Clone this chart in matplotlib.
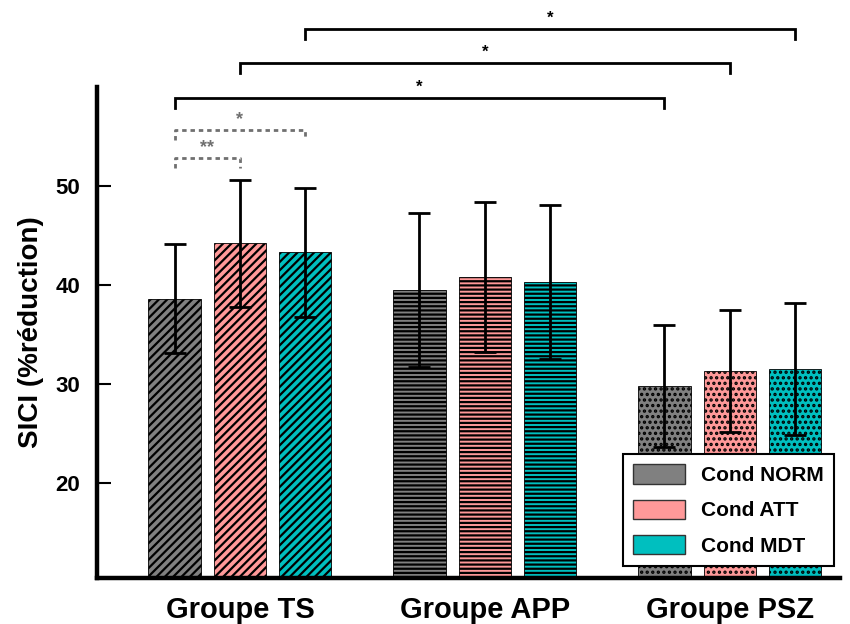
import matplotlib
matplotlib.use("Agg")
import matplotlib.pyplot as plt
import numpy as np
from matplotlib.patches import Patch

plt.rcParams['font.family'] = ['Liberation Sans', 'DejaVu Sans']
plt.rcParams['font.weight'] = 'bold'
plt.rcParams['hatch.linewidth'] = 1.6

groups = ["Groupe TS", "Groupe APP", "Groupe PSZ"]
conditions = ["Cond NORM", "Cond ATT", "Cond MDT"]
colors = ["#808080", "#FF9999", "#00BFBF"]
hatches = ["////", "----", "..."]

# mean per group (rows) and condition (columns)
means = np.array([
    [38.6, 44.2, 43.3],
    [39.5, 40.8, 40.3],
    [29.8, 31.3, 31.5],
])
errors = np.array([
    [5.5, 6.4, 6.5],
    [7.8, 7.6, 7.8],
    [6.2, 6.2, 6.7],
])

# significance brackets: (group_a, cond_a, group_b, cond_b, height, label)
sig_main = [
    (0, 2, 2, 2, 65.8, "*"),
    (0, 1, 2, 1, 62.4, "*"),
    (0, 0, 2, 0, 58.9, "*"),
]
sig_within = [
    (0, 0, 0, 2, 55.6, "*"),
    (0, 0, 0, 1, 52.8, "**"),
]

fig = plt.figure(figsize=(8.5, 6.24), dpi=100)
ax = fig.add_axes([0.114, 0.0737, 0.874, 0.787])

x = np.arange(len(groups))
offsets = np.array([-0.267, 0.0, 0.267])
width = 0.213

for j in range(3):
    for i in range(3):
        ax.bar(x[i] + offsets[j], means[i, j], width, color=colors[j],
               edgecolor="black", linewidth=0.6, hatch=hatches[i], zorder=2)
    ax.errorbar(x + offsets[j], means[:, j], yerr=errors[:, j], fmt="none",
                ecolor="black", elinewidth=2, capsize=8, capthick=2, zorder=3)

def pos(g, c):
    return x[g] + offsets[c]

for ga, ca, gb, cb, h, lab in sig_main:
    xa, xb = pos(ga, ca), pos(gb, cb)
    ax.plot([xa, xa, xb, xb], [h - 1.0, h, h, h - 1.0], color="black",
            lw=2, clip_on=False, zorder=4, solid_joinstyle="miter")
    ax.text((xa + xb) / 2, h + 0.35, lab, ha="center", va="bottom",
            fontsize=12, fontweight="bold", color="black", clip_on=False)

for ga, ca, gb, cb, h, lab in sig_within:
    xa, xb = pos(ga, ca), pos(gb, cb)
    ax.plot([xa, xa, xb, xb], [h - 1.0, h, h, h - 1.0], color="#707070",
            lw=2, ls=(0, (1.6, 1.4)), clip_on=False, zorder=4)
    ax.text((xa + xb) / 2, h + 0.2, lab, ha="center", va="bottom",
            fontsize=13, fontweight="bold", color="#707070", clip_on=False)

ax.set_xlim(-0.584, 2.449)
ax.set_ylim(10.4, 60)
ax.set_yticks([20, 30, 40, 50])
ax.set_xticks(x)
ax.set_xticklabels(groups, fontsize=21, fontweight="bold")
ax.tick_params(axis="x", length=0, pad=13)
ax.tick_params(axis="y", direction="in", length=10, width=1.5, labelsize=16, pad=12)
for lab in ax.get_yticklabels():
    lab.set_fontweight("bold")
ax.set_ylabel("SICI (%réduction)", fontsize=20, fontweight="bold", labelpad=8)

ax.spines["top"].set_visible(False)
ax.spines["right"].set_visible(False)
ax.spines["left"].set_linewidth(3.2)
ax.spines["bottom"].set_linewidth(3.2)

handles = [Patch(facecolor=c, edgecolor="#333333", linewidth=1) for c in colors]
leg = ax.legend(handles, conditions, loc="lower right", bbox_to_anchor=(0.992, 0.024),
                borderaxespad=0, handlelength=2.5, handleheight=1.05,
                labelspacing=0.7, handletextpad=0.75, borderpad=0.5,
                fancybox=False, framealpha=1, edgecolor="black",
                prop={"weight": "bold", "size": 15})
leg.get_frame().set_linewidth(1.5)
leg.set_zorder(5)

fig.savefig("out.png", dpi=100)
